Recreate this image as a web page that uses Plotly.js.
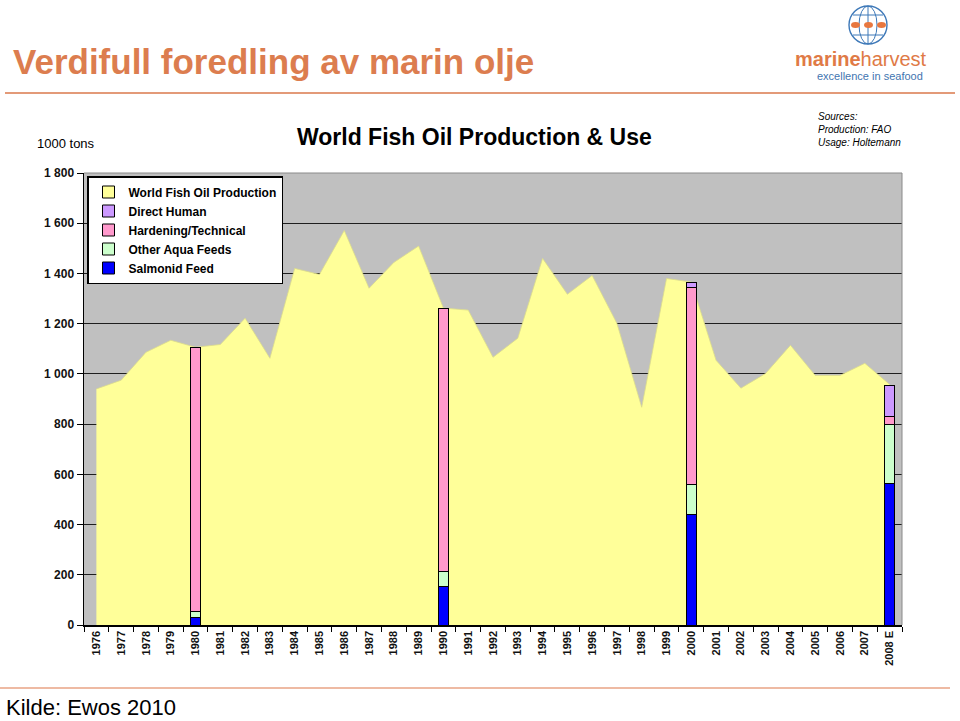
<!DOCTYPE html>
<html>
<head>
<meta charset="utf-8">
<script src="https://cdn.plot.ly/plotly-3.0.1.min.js"></script>
<style>html,body{margin:0;padding:0;background:#fff;}#chart{width:960px;height:721px;}</style>
</head>
<body>
<div id="chart"></div>
<script>
// ---- data ----
const categories = ['1976','1977','1978','1979','1980','1981','1982','1983','1984','1985','1986','1987','1988','1989','1990','1991','1992','1993','1994','1995','1996','1997','1998','1999','2000','2001','2002','2003','2004','2005','2006','2007','2008 E'];
const production = [940, 975, 1086, 1134, 1106, 1117, 1222, 1062, 1420, 1396, 1571, 1341, 1444, 1509, 1262, 1254, 1066, 1142, 1460, 1317, 1392, 1201, 867, 1380, 1366, 1054, 943, 1002, 1114, 994, 994, 1042, 958];
const barYears = ['1980','1990','2000','2008 E'];
const salmonidFeed = [30, 155, 442, 565];
const otherAquaFeeds = [22, 60, 119, 235];
const hardeningTechnical = [1054, 1046, 784, 31];
const directHuman = [0, 0, 19, 124];
const seriesNames = ['World Fish Oil Production','Direct Human','Hardening/Technical','Other Aqua Feeds','Salmonid Feed'];

// ---- style ----
const FONT = 'Arial, "Liberation Sans", sans-serif';
const YELLOW = '#ffff99', PURPLE = '#cc99ff', PINK = '#ff99cc', GREEN = '#ccffcc', BLUE = '#0000ff';
const W = 960, H = 721, ML = 84, MR = 58, MT = 173, MB = 96;
const PW = W - ML - MR, PH = H - MT - MB;
const px = v => (v - ML) / PW;
const py = v => (H - MB - v) / PH;
const outline = {color: '#000', width: 1};
const BW = 0.42;

const traces = [
  {type: 'scatter', mode: 'lines', x: categories, y: production, fill: 'tozeroy',
   fillcolor: YELLOW, line: {color: '#dcdc8c', width: 0.8}, showlegend: false, hoverinfo: 'skip'},
  {type: 'bar', name: seriesNames[0], x: [categories[0]], y: [null], xaxis: 'x2',
   marker: {color: YELLOW, line: outline}, legendrank: 1},
  {type: 'bar', name: seriesNames[4], x: barYears, y: salmonidFeed, xaxis: 'x2', width: BW,
   marker: {color: BLUE, line: outline}, legendrank: 5},
  {type: 'bar', name: seriesNames[3], x: barYears, y: otherAquaFeeds, xaxis: 'x2', width: BW,
   marker: {color: GREEN, line: outline}, legendrank: 4},
  {type: 'bar', name: seriesNames[2], x: barYears, y: hardeningTechnical, xaxis: 'x2', width: BW,
   marker: {color: PINK, line: outline}, legendrank: 3},
  {type: 'bar', name: seriesNames[1], x: barYears, y: directHuman, xaxis: 'x2', width: BW,
   marker: {color: PURPLE, line: outline}, legendrank: 2}
];

const ann = (x, y, text, font, xanchor) => ({xref: 'paper', yref: 'paper', x: px(x), y: py(y), text: text,
  showarrow: false, xanchor: xanchor || 'left', yanchor: 'middle', align: 'left', font: Object.assign({family: FONT, color: '#000'}, font)});

const layout = {
  width: W, height: H,
  margin: {l: ML, r: MR, t: MT, b: MB, pad: 0},
  paper_bgcolor: '#ffffff', plot_bgcolor: '#c0c0c0',
  separators: '. ',
  barmode: 'stack',
  hovermode: false,
  font: {family: FONT, color: '#000'},
  xaxis: {type: 'category', categoryorder: 'array', categoryarray: categories, range: [-0.5, 32.5],
    tickson: 'boundaries', ticks: 'outside', ticklen: 5, tickcolor: '#000', tickwidth: 1,
    showline: true, linecolor: '#000', linewidth: 1.5, showgrid: false, tickangle: -90,
    tickfont: {family: FONT, size: 11, color: '#111', weight: 'bold'}},
  xaxis2: {type: 'category', categoryorder: 'array', categoryarray: categories, range: [-0.5, 32.5],
    overlaying: 'x', anchor: 'y', visible: false},
  yaxis: {range: [0, 1800], dtick: 200, tick0: 0, ticks: 'outside', ticklen: 6, tickcolor: '#000',
    showline: true, linecolor: '#000', linewidth: 1.5, showgrid: true, gridcolor: '#1e1e1e', gridwidth: 1,
    zeroline: false, separatethousands: true,
    tickfont: {family: FONT, size: 12, color: '#111', weight: 'bold'}},
  legend: {x: px(87), y: py(176), xanchor: 'left', yanchor: 'top', bgcolor: '#ffffff',
    bordercolor: '#000', borderwidth: 1.5, traceorder: 'normal', tracegroupgap: 0,
    font: {family: FONT, size: 12, color: '#000', weight: 'bold'}},
  shapes: [
    {type: 'line', xref: 'paper', yref: 'paper', x0: px(5), x1: px(955), y0: py(93), y1: py(93), line: {color: '#e39a78', width: 2}},
    {type: 'line', xref: 'paper', yref: 'paper', x0: px(0), x1: px(950), y0: py(688), y1: py(688), line: {color: '#e8a384', width: 1.5}},
    {type: 'line', xref: 'paper', yref: 'paper', x0: 0, x1: 1, y0: 1, y1: 1, line: {color: '#8a8a8a', width: 1}},
    {type: 'line', xref: 'paper', yref: 'paper', x0: 1, x1: 1, y0: 0, y1: 1, line: {color: '#8a8a8a', width: 1}},
    // logo globe
    {type: 'circle', xref: 'paper', yref: 'paper', x0: px(849), x1: px(887), y0: py(44), y1: py(6), line: {color: '#3d78b8', width: 1.4}},
    {type: 'circle', xref: 'paper', yref: 'paper', x0: px(859), x1: px(877), y0: py(44), y1: py(6), line: {color: '#3d78b8', width: 1}},
    {type: 'line', xref: 'paper', yref: 'paper', x0: px(868), x1: px(868), y0: py(44), y1: py(6), line: {color: '#3d78b8', width: 1}},
    {type: 'line', xref: 'paper', yref: 'paper', x0: px(853), x1: px(883), y0: py(15), y1: py(15), line: {color: '#3d78b8', width: 1}},
    {type: 'line', xref: 'paper', yref: 'paper', x0: px(853), x1: px(883), y0: py(35), y1: py(35), line: {color: '#3d78b8', width: 1}},
    {type: 'circle', xref: 'paper', yref: 'paper', x0: px(851), x1: px(860), y0: py(28), y1: py(22), fillcolor: '#e8773f', line: {width: 0}},
    {type: 'circle', xref: 'paper', yref: 'paper', x0: px(864), x1: px(873), y0: py(28), y1: py(22), fillcolor: '#e8773f', line: {width: 0}},
    {type: 'circle', xref: 'paper', yref: 'paper', x0: px(877), x1: px(886), y0: py(28), y1: py(22), fillcolor: '#e8773f', line: {width: 0}}
  ],
  annotations: [
    ann(11, 61, '<b>Verdifull foredling av marin olje</b>', {size: 35, color: '#dc7d4f'}),
    ann(474, 137, '<b>World Fish Oil Production &amp; Use</b>', {size: 23}, 'center'),
    ann(35, 143, '1000 tons', {size: 13}),
    ann(816, 130, '<i>Sources:<br>Production: FAO<br>Usage: Holtemann</i>', {size: 10}),
    ann(4, 707, 'Kilde: Ewos 2010', {size: 22}),
    ann(793, 59, '<b>marine</b>harvest', {size: 20, color: '#e07a46'}),
    ann(815, 76, 'excellence in seafood', {size: 11, color: '#3f75b0'})
  ]
};

Plotly.newPlot('chart', traces, layout, {displayModeBar: false, staticPlot: true});
</script>
</body>
</html>
